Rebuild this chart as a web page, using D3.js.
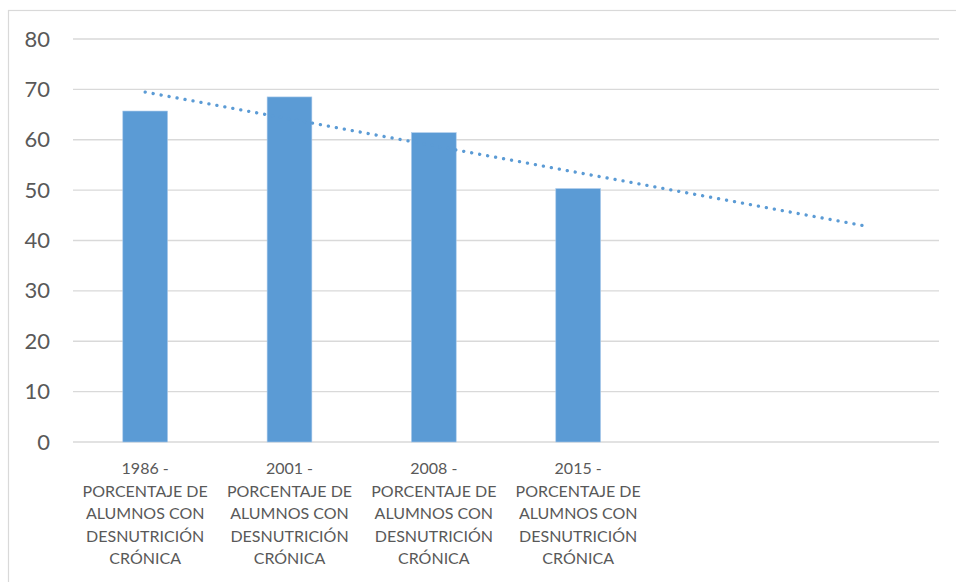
<!DOCTYPE html>
<html>
<head>
<meta charset="utf-8">
<script src="https://cdn.jsdelivr.net/npm/d3@7"></script>
<style>
  body { margin: 0; background: #fff; }
  svg { display: block; font-family: Lato, "Open Sans", sans-serif; }
</style>
</head>
<body>
<svg id="chart" width="956" height="582"></svg>
<script>
// chart data
const categories = [
    "1986 - PORCENTAJE DE ALUMNOS CON DESNUTRICIÓN CRÓNICA",
    "2001 - PORCENTAJE DE ALUMNOS CON DESNUTRICIÓN CRÓNICA",
    "2008 - PORCENTAJE DE ALUMNOS CON DESNUTRICIÓN CRÓNICA",
    "2015 - PORCENTAJE DE ALUMNOS CON DESNUTRICIÓN CRÓNICA",
    "",
    ""
];
const labelLines = [
    ["1986 -", "PORCENTAJE DE", "ALUMNOS CON", "DESNUTRICIÓN", "CRÓNICA"],
    ["2001 -", "PORCENTAJE DE", "ALUMNOS CON", "DESNUTRICIÓN", "CRÓNICA"],
    ["2008 -", "PORCENTAJE DE", "ALUMNOS CON", "DESNUTRICIÓN", "CRÓNICA"],
    ["2015 -", "PORCENTAJE DE", "ALUMNOS CON", "DESNUTRICIÓN", "CRÓNICA"],
    [],
    []
];
const values = [65.7, 68.5, 61.4, 50.3];
const yTicks = [0, 10, 20, 30, 40, 50, 60, 70, 80];

const svg = d3.select("#chart");
const margin = { top: 39, right: 17, bottom: 140, left: 73 };
const width = 956 - margin.left - margin.right;
const height = 582 - margin.top - margin.bottom;

// outer chart frame (only top and left edges show)
svg.append("rect")
    .attr("x", 8.5).attr("y", 10.5)
    .attr("width", 1000).attr("height", 1000)
    .attr("fill", "none")
    .attr("stroke", "#d9d9d9")
    .attr("stroke-width", 1.2);

const g = svg.append("g")
    .attr("transform", `translate(${margin.left}, ${margin.top})`);

const x = d3.scaleBand()
    .domain(d3.range(categories.length))
    .range([0, width])
    .paddingInner(0.69)
    .paddingOuter(0.345);

const xCenter = d3.scalePoint()
    .domain(d3.range(categories.length))
    .range([0, width])
    .padding(0.5);

const y = d3.scaleLinear()
    .domain([0, 80])
    .range([height, 0]);

// horizontal grid
g.append("g")
    .selectAll("line")
    .data(yTicks)
    .enter()
    .append("line")
    .attr("x1", 0)
    .attr("x2", width)
    .attr("y1", d => y(d))
    .attr("y2", d => y(d))
    .attr("stroke", "#d9d9d9")
    .attr("stroke-width", d => d === 0 ? 1.6 : 1.3);

// y labels
const yAxis = g.append("g")
    .call(d3.axisLeft(y).tickValues(yTicks).tickSize(0).tickPadding(23));
yAxis.select(".domain").remove();
yAxis.selectAll("text")
    .attr("fill", "#595959")
    .style("font-size", "22px")
    .style("font-family", "Lato, sans-serif");

// bars
g.append("g")
    .selectAll("rect")
    .data(values)
    .enter()
    .append("rect")
    .attr("x", (d, i) => x(i))
    .attr("width", x.bandwidth())
    .attr("y", d => y(d))
    .attr("height", d => height - y(d))
    .attr("fill", "#5b9bd5")
    .attr("stroke", "#a9c9ea")
    .attr("stroke-width", 0.6);

// linear trendline, forecast forward to the last category
const xs = values.map((d, i) => i + 1);
const mx = d3.mean(xs), my = d3.mean(values);
const slope = d3.sum(xs, (v, i) => (v - mx) * (values[i] - my)) / d3.sum(xs, v => (v - mx) ** 2);
const intercept = my - slope * mx;
const trend = [0, categories.length - 1].map(i => ({ i, v: intercept + slope * (i + 1) }));

g.append("path")
    .datum(trend)
    .attr("d", d3.line().x(d => xCenter(d.i)).y(d => y(d.v)))
    .attr("fill", "none")
    .attr("stroke", "#5b9bd5")
    .attr("stroke-width", 3.3)
    .attr("stroke-linecap", "round")
    .attr("stroke-dasharray", "0.1 8");

// category labels
const labels = g.append("g")
    .attr("transform", `translate(0, ${height})`);
labels.selectAll("text")
    .data(labelLines)
    .enter()
    .append("text")
    .attr("x", (d, i) => xCenter(i))
    .attr("y", 32)
    .attr("text-anchor", "middle")
    .attr("fill", "#595959")
    .style("font-size", "16px")
    .each(function(lines, i) {
        d3.select(this).selectAll("tspan")
            .data(lines)
            .enter()
            .append("tspan")
            .attr("x", xCenter(i))
            .attr("dy", (l, k) => k === 0 ? 0 : 22.6)
            .text(l => l);
    });
</script>
</body>
</html>
